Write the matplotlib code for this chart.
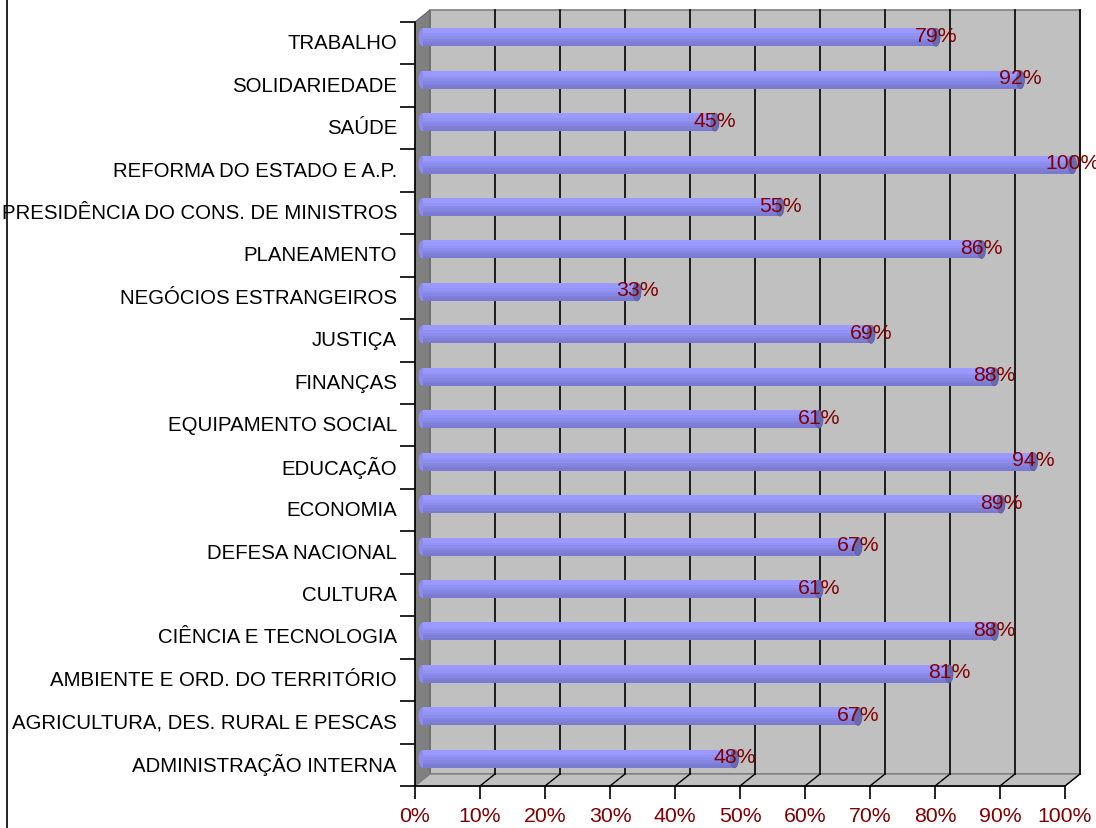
import matplotlib
matplotlib.use("Agg")
import matplotlib.pyplot as plt
from matplotlib.patches import Polygon, Ellipse
from matplotlib.lines import Line2D
import numpy as np

categories = ["TRABALHO", "SOLIDARIEDADE", "SAÚDE", "REFORMA DO ESTADO E A.P.",
              "PRESIDÊNCIA DO CONS. DE MINISTROS", "PLANEAMENTO", "NEGÓCIOS ESTRANGEIROS",
              "JUSTIÇA", "FINANÇAS", "EQUIPAMENTO SOCIAL", "EDUCAÇÃO", "ECONOMIA",
              "DEFESA NACIONAL", "CULTURA", "CIÊNCIA E TECNOLOGIA",
              "AMBIENTE E ORD. DO TERRITÓRIO", "AGRICULTURA, DES. RURAL E PESCAS",
              "ADMINISTRAÇÃO INTERNA"]
values = [79, 92, 45, 100, 55, 86, 33, 69, 88, 61, 94, 89, 67, 61, 88, 81, 67, 48]
xticks = list(range(0, 101, 10))
xticklabels = [f"{t}%" for t in xticks]

plt.rcParams['font.family'] = ['Liberation Sans', 'DejaVu Sans']

W, H = 1096, 829
fig = plt.figure(figsize=(W / 100, H / 100), dpi=100)
L, R, B, T = 415, 1065, 787, 23
ax = fig.add_axes([L / W, (H - B) / H, (R - L) / W, (B - T) / H])

n = len(categories)
ypos = np.arange(n)[::-1]  # top category at highest y
ax.set_xlim(0, 100)
ax.set_ylim(-0.5, n - 0.5)

pxx = 100 / (R - L)
pxy = n / (B - T)
dx = 15 * pxx
dy = 12 * pxy

red = "#800000"
wall = "#c0c0c0"
fs_cat = 14.7
fs_val = 15.3

# back wall
ax.add_patch(Polygon([(dx, -0.5 + dy), (100 + dx, -0.5 + dy), (100 + dx, n - 0.5 + dy), (dx, n - 0.5 + dy)],
                     closed=True, facecolor=wall, edgecolor="#808080", lw=1.2, clip_on=False, zorder=0))
# left wall
ax.add_patch(Polygon([(0, -0.5), (dx, -0.5 + dy), (dx, n - 0.5 + dy), (0, n - 0.5)],
                     closed=True, facecolor="#808080", edgecolor="#606060", lw=0.8, clip_on=False, zorder=1))
# floor
ax.add_patch(Polygon([(0, -0.5), (100, -0.5), (100 + dx, -0.5 + dy), (dx, -0.5 + dy)],
                     closed=True, facecolor=wall, edgecolor="#808080", lw=1.0, clip_on=False, zorder=1))
# gridlines
for t in xticks[1:]:
    ax.plot([t + dx, t + dx], [-0.5 + dy, n - 0.5 + dy], color="black", lw=1.2, clip_on=False, zorder=1)
    ax.plot([t, t + dx], [-0.5, -0.5 + dy], color="black", lw=1.0, clip_on=False, zorder=1)

# cylinders
bh = 18 * pxy
shades = ["#9b9bff", "#9999ff", "#9393f5", "#8c8cec", "#8585e2", "#7f7fd8", "#7a7ad0"]
ns = len(shades)
cap = 4 * pxx
for y, v in zip(ypos, values):
    yc = y + dy / 2
    x0 = dx / 2
    for k, c in enumerate(shades):
        ylo = yc + bh / 2 - (k + 1) * bh / ns
        ax.barh(ylo, v, left=x0, height=bh / ns, align="edge", color=c, lw=0, zorder=3, clip_on=False)
    ax.add_patch(Ellipse((x0, yc), 2 * cap, bh, facecolor="#8c8cec", lw=0, zorder=2.9, clip_on=False))
    ax.add_patch(Ellipse((x0 + v, yc), 2 * cap, bh, facecolor="#6a6ab4", edgecolor="#5a5aa0", lw=0.5,
                         zorder=3.5, clip_on=False))
    ax.text(x0 + v, yc + 2 * pxy, f"{v}%", color=red, fontsize=fs_val, ha="center", va="center", zorder=5)

# axes styling
for s in ["top", "right"]:
    ax.spines[s].set_visible(False)
ax.spines["left"].set_color("black")
ax.spines["bottom"].set_color("black")
ax.spines["left"].set_linewidth(1.2)
ax.spines["bottom"].set_linewidth(1.2)
ax.set_xticks(xticks)
ax.set_xticklabels(xticklabels, color=red, fontsize=fs_val)
ax.tick_params(axis="x", length=9.5, width=1.2, pad=5)
ax.set_yticks(np.arange(n + 1) - 0.5)
ax.set_yticklabels([])
ax.tick_params(axis="y", which="major", length=11, width=1.2)
ax.set_yticks(ypos + 2.5 * pxy, minor=True)
ax.set_yticklabels(categories, minor=True, fontsize=fs_cat)
ax.tick_params(axis="y", which="minor", length=0, pad=13)
ax.patch.set_visible(False)

fig.add_artist(Line2D([7 / W, 7 / W], [0, 1], color="black", lw=1.2))

fig.savefig("out.png", dpi=100)
